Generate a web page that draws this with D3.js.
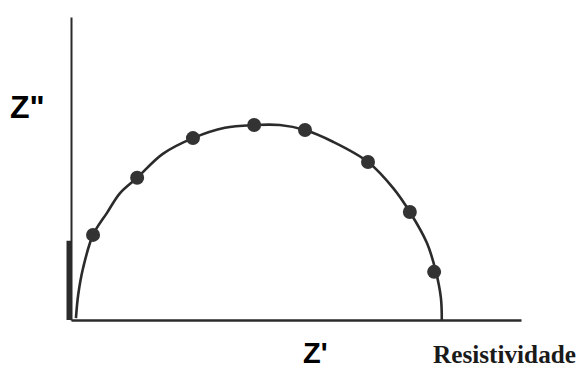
<!DOCTYPE html>
<html>
<head>
<meta charset="utf-8">
<script src="https://cdn.jsdelivr.net/npm/d3@7"></script>
<style>
  body { margin: 0; background: #fff; }
  svg { display: block; }
</style>
</head>
<body>
<div id="chart"></div>
<script>
// measured points (Z', Z'')
const zReal = [0.49, 1.47, 2.71, 4.07, 5.2, 6.6, 7.53, 8.07];
const zImag = [1.89, 3.16, 4.04, 4.33, 4.22, 3.51, 2.4, 1.07];

// fitted arc
const arcReal = [0.11, 0.16, 0.27, 0.49, 0.8, 1.09, 1.47, 2.04, 2.71, 3.42, 4.07, 4.64, 5.2, 5.82, 6.6, 7.16, 7.53, 7.91, 8.11, 8.22, 8.24];
const arcImag = [0.04, 0.56, 1.16, 1.89, 2.38, 2.82, 3.16, 3.69, 4.04, 4.27, 4.33, 4.33, 4.22, 3.96, 3.51, 2.93, 2.4, 1.71, 1.07, 0.49, 0];

// heavy stroke at the start of the vertical axis
const stem = [0, 1.76];

const labelY = "Z\"";
const labelX = "Z'";
const unitLabel = "Resistividade";

const W = 579, H = 369;
const margin = { top: 17, right: 58, bottom: 49, left: 71 };
const width = W - margin.left - margin.right,
  height = H - margin.top - margin.bottom;

const svg = d3
  .select("#chart")
  .append("svg")
  .attr("width", W)
  .attr("height", H);

const g = svg
  .append("g")
  .attr("transform", "translate(" + margin.left + "," + margin.top + ")");

const x = d3.scaleLinear().domain([0, 10]).range([0, width]);
const y = d3.scaleLinear().domain([0, 6.73]).range([height, 0]);

const ink = "#2b2b2b";

// axes: just the lines, no ticks
const yAxis = g.append("g").call(d3.axisLeft(y).ticks(0).tickSize(0).tickSizeOuter(0));
yAxis.select(".domain").attr("stroke", ink).attr("stroke-width", 2);

const xAxis = g
  .append("g")
  .attr("transform", "translate(0," + height + ")")
  .call(d3.axisBottom(x).ticks(0).tickSize(0).tickSizeOuter(0));
xAxis.select(".domain").attr("stroke", ink).attr("stroke-width", 2.5);

g.append("line")
  .attr("x1", -2)
  .attr("x2", -2)
  .attr("y1", y(stem[0]))
  .attr("y2", y(stem[1]))
  .attr("stroke", ink)
  .attr("stroke-width", 5);

// arc
const arcData = arcReal.map((d, i) => ({ re: d, im: arcImag[i] }));
g.append("path")
  .datum(arcData)
  .attr("fill", "none")
  .attr("stroke", ink)
  .attr("stroke-width", 2.6)
  .attr(
    "d",
    d3
      .line()
      .curve(d3.curveCatmullRom)
      .x(d => x(d.re))
      .y(d => y(d.im))
  );

// points
const pts = zReal.map((d, i) => ({ re: d, im: zImag[i] }));
g.selectAll(".pt")
  .data(pts)
  .enter()
  .append("circle")
  .attr("class", "pt")
  .attr("cx", d => x(d.re))
  .attr("cy", d => y(d.im))
  .attr("r", 7)
  .style("fill", "#333");

// labels
svg.append("text")
  .attr("x", 10)
  .attr("y", 118)
  .style("font-family", "'Liberation Sans', Arial, sans-serif")
  .style("font-weight", "bold")
  .style("font-size", "32px")
  .text(labelY);

svg.append("text")
  .attr("x", 303)
  .attr("y", 363)
  .style("font-family", "'Liberation Sans', Arial, sans-serif")
  .style("font-weight", "bold")
  .style("font-size", "29px")
  .text(labelX);

svg.append("text")
  .attr("x", 433)
  .attr("y", 363)
  .attr("textLength", 143)
  .attr("lengthAdjust", "spacingAndGlyphs")
  .style("font-family", "'Liberation Serif', 'Times New Roman', serif")
  .style("font-weight", "bold")
  .style("font-size", "25px")
  .style("fill", "#1a1a1a")
  .text(unitLabel);
</script>
</body>
</html>
